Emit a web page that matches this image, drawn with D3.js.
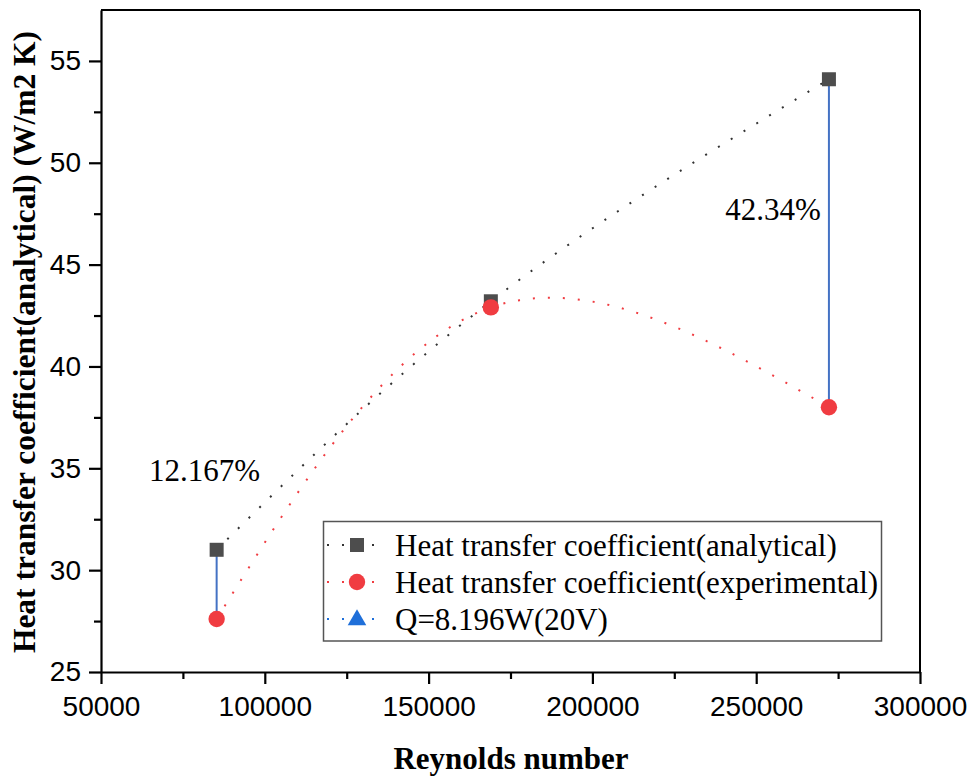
<!DOCTYPE html>
<html>
<head>
<meta charset="utf-8">
<script src="https://cdn.jsdelivr.net/npm/d3@7"></script>
<style>
  body { margin: 0; background: #fff; }
  svg { display: block; }
</style>
</head>
<body>
<svg id="chart" width="971" height="778"></svg>
<script>
// Reynolds numbers of the three test runs
const reynolds = [85300, 169000, 272200];
// Heat transfer coefficient (W/m2 K)
const analytical = [31.0, 43.2, 54.1];
const experimental = [27.6, 42.9, 38.0];
// Relative deviation annotations (index into the runs)
const deviationLabels = [
  { run: 0, text: "12.167%" },
  { run: 2, text: "42.34%" }
];
const xTicks = [50000, 100000, 150000, 200000, 250000, 300000];
const yTicks = [25, 30, 35, 40, 45, 50, 55];
const seriesNames = [
  "Heat transfer coefficient(analytical)",
  "Heat transfer coefficient(experimental)",
  "Q=8.196W(20V)"
];

const colors = { analytical: "#4d4d4d", experimental: "#f03c41", q: "#1f6fd9", drop: "#4472c4" };

const svg = d3.select("#chart");
const plotL = 101, plotR = 920, plotT = 10, plotB = 672;

const x = d3.scaleLinear().domain([50000, 300000]).range([plotL, plotR]);
const y = d3.scaleLinear().domain([25, 57.5]).range([plotB, plotT]);

const serif = "'Liberation Serif', 'Times New Roman', serif";
const sans = "'Liberation Sans', Arial, sans-serif";

// Frame: top and right borders
svg.append("line").attr("x1", plotL).attr("x2", plotR).attr("y1", plotT).attr("y2", plotT)
  .attr("stroke", "#000").attr("stroke-width", 2);
svg.append("line").attr("x1", plotR).attr("x2", plotR).attr("y1", plotT).attr("y2", plotB)
  .attr("stroke", "#000").attr("stroke-width", 2);

// Minor tick positions halfway between majors
const xMinor = d3.range(75000, 300000, 50000);
const yMinor = d3.range(27.5, 57.5, 5);

// X axis
const xAxis = svg.append("g").attr("transform", `translate(0,${plotB})`)
  .call(d3.axisBottom(x).tickValues(xTicks).tickFormat(d3.format("d")).tickSizeInner(12).tickSizeOuter(0).tickPadding(12));
xAxis.selectAll(".domain").attr("stroke-width", 2.2);
xAxis.selectAll(".tick line").attr("stroke-width", 2.2);
xAxis.selectAll(".tick text").attr("font-family", sans).attr("font-size", 28).attr("fill", "#000");
const xMinorG = svg.append("g").attr("transform", `translate(0,${plotB})`)
  .call(d3.axisBottom(x).tickValues(xMinor).tickFormat("").tickSizeInner(7).tickSizeOuter(0));
xMinorG.select(".domain").remove();
xMinorG.selectAll(".tick line").attr("stroke-width", 2.2);

// Y axis
const yAxis = svg.append("g").attr("transform", `translate(${plotL},0)`)
  .call(d3.axisLeft(y).tickValues(yTicks).tickSizeInner(12).tickSizeOuter(0).tickPadding(8));
yAxis.selectAll(".domain").attr("stroke-width", 2.2);
yAxis.selectAll(".tick line").attr("stroke-width", 2.2);
yAxis.selectAll(".tick text").attr("font-family", sans).attr("font-size", 28).attr("fill", "#000");
const yMinorG = svg.append("g").attr("transform", `translate(${plotL},0)`)
  .call(d3.axisLeft(y).tickValues(yMinor).tickFormat("").tickSizeInner(7).tickSizeOuter(0));
yMinorG.select(".domain").remove();
yMinorG.selectAll(".tick line").attr("stroke-width", 2.2);

// Axis titles
svg.append("text").attr("x", 511).attr("y", 769).attr("text-anchor", "middle")
  .attr("font-family", serif).attr("font-weight", "bold").attr("font-size", 31)
  .text("Reynolds number");
svg.append("text").attr("transform", "translate(35,342) rotate(-90)").attr("text-anchor", "middle")
  .attr("font-family", serif).attr("font-weight", "bold").attr("font-size", 31.5)
  .text("Heat transfer coefficient(analytical) (W/m2 K)");

// Spline connectors
const line = d3.line().x(d => x(d[0])).y(d => y(d[1])).curve(d3.curveNatural);
const dotted = "2,13";
svg.append("path").datum(d3.zip(reynolds, analytical)).attr("d", line)
  .attr("fill", "none").attr("stroke", "#333").attr("stroke-width", 2).attr("stroke-dasharray", dotted);
svg.append("path").datum(d3.zip(reynolds, experimental)).attr("d", line)
  .attr("fill", "none").attr("stroke", colors.experimental).attr("stroke-width", 2).attr("stroke-dasharray", dotted);

// Drop lines between analytical and experimental for annotated runs
svg.append("g").selectAll("line").data(deviationLabels).join("line")
  .attr("x1", d => x(reynolds[d.run])).attr("x2", d => x(reynolds[d.run]))
  .attr("y1", d => y(analytical[d.run])).attr("y2", d => y(experimental[d.run]))
  .attr("stroke", colors.drop).attr("stroke-width", 2);

// Markers
const sq = 14;
svg.append("g").selectAll("rect").data(d3.zip(reynolds, analytical)).join("rect")
  .attr("x", d => x(d[0]) - sq / 2).attr("y", d => y(d[1]) - sq / 2)
  .attr("width", sq).attr("height", sq).attr("fill", colors.analytical);
svg.append("g").selectAll("circle").data(d3.zip(reynolds, experimental)).join("circle")
  .attr("cx", d => x(d[0])).attr("cy", d => y(d[1])).attr("r", 8.2)
  .attr("fill", colors.experimental);

// Deviation labels
const labelPos = [ { dx: -12, dy: -69 }, { dx: -56, dy: 141 } ];
svg.append("g").selectAll("text").data(deviationLabels).join("text")
  .attr("x", (d, i) => x(reynolds[d.run]) + labelPos[i].dx)
  .attr("y", (d, i) => y(analytical[d.run]) + labelPos[i].dy)
  .attr("text-anchor", "middle")
  .attr("font-family", serif).attr("font-size", 31).attr("fill", "#000")
  .text(d => d.text);

// Legend
const lg = svg.append("g");
lg.append("rect").attr("x", 323.5).attr("y", 521.5).attr("width", 558).attr("height", 119.5)
  .attr("fill", "#fff").attr("stroke", "#555").attr("stroke-width", 1.5);
const rowY = [545, 582, 619];
const strokeCols = ["#333", colors.experimental, colors.q];
seriesNames.forEach((name, i) => {
  const g = lg.append("g").attr("transform", `translate(0,${rowY[i]})`);
  g.append("line").attr("x1", 327).attr("x2", 376).attr("y1", 0).attr("y2", 0)
    .attr("stroke", strokeCols[i]).attr("stroke-width", 2).attr("stroke-dasharray", dotted);
  if (i === 0) {
    g.append("rect").attr("x", 357 - sq / 2).attr("y", -sq / 2).attr("width", sq).attr("height", sq)
      .attr("fill", colors.analytical);
  } else if (i === 1) {
    g.append("circle").attr("cx", 357).attr("cy", 0).attr("r", 8.2).attr("fill", colors.experimental);
  } else {
    g.append("path").attr("d", d3.symbol(d3.symbolTriangle, 150)()).attr("transform", "translate(357,1)")
      .attr("fill", colors.q);
  }
  g.append("text").attr("x", 395).attr("y", 10.5).attr("font-family", serif).attr("font-size", 31)
    .attr("fill", "#000").text(name);
});
</script>
</body>
</html>
